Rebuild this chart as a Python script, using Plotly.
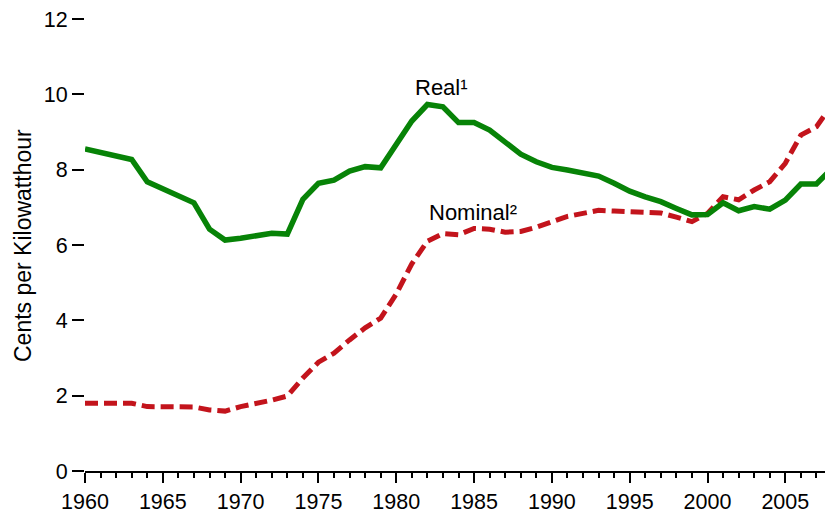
"""
Average retail price of electricity, real vs nominal, 1960-2008.
"""

import plotly.graph_objects as go

# ── Data ──────────────────────────────────────────────────────────────────────

YEARS = list(range(1960, 2009))

REAL = [
    8.55, 8.46, 8.36, 8.27, 7.68, 7.50, 7.32, 7.12, 6.42, 6.13,
    6.18, 6.24, 6.31, 6.29, 7.21, 7.64, 7.72, 7.96, 8.08, 8.05,
    8.70, 9.29, 9.73, 9.67, 9.25, 9.25, 9.05, 8.74, 8.41, 8.21,
    8.06, 7.99, 7.90, 7.83, 7.64, 7.43, 7.28, 7.15, 6.97, 6.80,
    6.81, 7.12, 6.91, 7.02, 6.95, 7.19, 7.62, 7.62, 8.03,
]

NOMINAL = [
    1.80, 1.80, 1.80, 1.80, 1.71, 1.70, 1.70, 1.70, 1.62, 1.59,
    1.71, 1.79, 1.88, 1.99, 2.47, 2.89, 3.13, 3.48, 3.80, 4.06,
    4.70, 5.50, 6.10, 6.30, 6.27, 6.44, 6.42, 6.34, 6.36, 6.47,
    6.60, 6.76, 6.84, 6.92, 6.90, 6.88, 6.86, 6.85, 6.74, 6.62,
    6.84, 7.28, 7.20, 7.46, 7.68, 8.17, 8.92, 9.14, 9.72,
]

X_TICKS = list(range(1960, 2010, 5))
Y_TICKS = [0, 2, 4, 6, 8, 10, 12]

# ── Style ─────────────────────────────────────────────────────────────────────

GREEN = "#078307"
RED   = "#C3141C"
FONT  = "Arial, Liberation Sans, sans-serif"

fig = go.Figure()

fig.add_trace(go.Scatter(
    x=YEARS, y=NOMINAL, mode="lines", name="Nominal",
    line=dict(color=RED, width=5, dash="13px,6px"),
))
fig.add_trace(go.Scatter(
    x=YEARS, y=REAL, mode="lines", name="Real",
    line=dict(color=GREEN, width=5.5),
))

# page body has an 8px default margin, so the margins are offset by it
fig.update_layout(
    width=833, height=509,
    paper_bgcolor="white", plot_bgcolor="white",
    font=dict(family=FONT, size=22, color="black"),
    margin=dict(l=77, r=9, t=11, b=46),
    showlegend=False,
    xaxis=dict(
        range=[1960, 2008], tickvals=X_TICKS, automargin=False,
        showgrid=False, zeroline=False,
        showline=True, linecolor="black", linewidth=2,
        ticks="outside", ticklen=10, tickwidth=2, tickcolor="black",
        minor=dict(dtick=1, tick0=1960, ticks="outside", ticklen=5,
                   tickwidth=2, tickcolor="black", showgrid=False),
        tickfont=dict(size=21.5), ticklabeloverflow="allow",
    ),
    yaxis=dict(
        range=[0, 12], tickvals=Y_TICKS, automargin=False,
        showgrid=False, zeroline=False, showline=False,
        ticks="outside", ticklen=12, tickwidth=2, tickcolor="black",
        tickfont=dict(size=21.5), ticklabeloverflow="allow",
    ),
    annotations=[
        dict(text="Real¹", x=1982.9, y=10.17, xref="x", yref="y",
             showarrow=False, font=dict(size=22)),
        dict(text="Nominal²", x=1984.9, y=6.85, xref="x", yref="y",
             showarrow=False, font=dict(size=22)),
        dict(text="Cents per Kilowatthour", textangle=-90,
             x=-0.083, y=0.5, xref="paper", yref="paper",
             xanchor="center", yanchor="middle",
             showarrow=False, font=dict(size=23)),
    ],
)

fig.write_html("out.html")
